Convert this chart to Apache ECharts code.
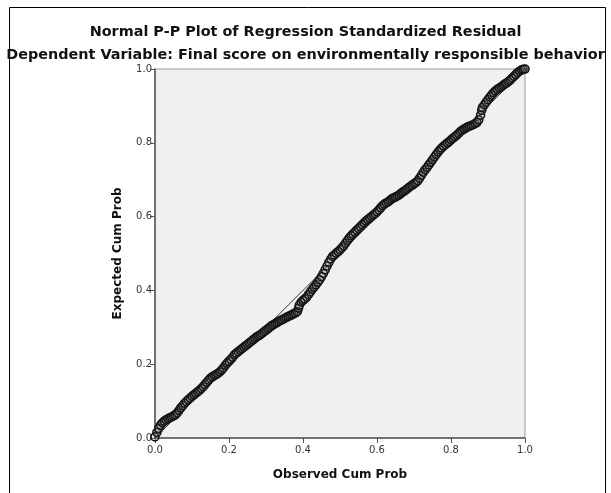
<!DOCTYPE html>
<html>
<head>
<meta charset="utf-8">
<script src="https://cdn.jsdelivr.net/npm/echarts@6/dist/echarts.min.js"></script>
<style>
html,body{margin:0;padding:0;background:#fff;}
#chart{width:611px;height:493px;}
</style>
</head>
<body>
<div id="chart"></div>
<script>
const titleText = "Normal P-P Plot of Regression Standardized Residual";
const subtitleText = "Dependent Variable: Final score on environmentally responsible behavior";
const xAxisName = "Observed Cum Prob";
const yAxisName = "Expected Cum Prob";
const tickValues = [0, 0.2, 0.4, 0.6, 0.8, 1.0];

const observedCumProb = [
0.000,0.005,0.010,0.015,0.020,0.025,0.030,0.035,0.040,0.045,
0.050,0.055,0.060,0.065,0.070,0.075,0.080,0.085,0.090,0.095,
0.100,0.105,0.110,0.115,0.120,0.125,0.130,0.135,0.140,0.145,
0.150,0.155,0.160,0.165,0.170,0.175,0.180,0.185,0.190,0.195,
0.200,0.205,0.210,0.215,0.220,0.225,0.230,0.235,0.240,0.245,
0.250,0.255,0.260,0.265,0.270,0.275,0.280,0.285,0.290,0.295,
0.300,0.305,0.310,0.315,0.320,0.325,0.330,0.335,0.340,0.345,
0.350,0.355,0.360,0.365,0.370,0.375,0.380,0.385,0.388,0.390,
0.395,0.400,0.405,0.410,0.415,0.420,0.425,0.430,0.435,0.440,
0.445,0.450,0.455,0.460,0.465,0.470,0.475,0.480,0.485,0.490,
0.495,0.500,0.505,0.510,0.515,0.520,0.525,0.530,0.535,0.540,
0.545,0.550,0.555,0.560,0.565,0.570,0.575,0.580,0.585,0.590,
0.595,0.600,0.605,0.610,0.615,0.620,0.625,0.630,0.635,0.640,
0.645,0.650,0.655,0.660,0.665,0.670,0.675,0.680,0.685,0.690,
0.695,0.700,0.705,0.710,0.715,0.720,0.725,0.730,0.735,0.740,
0.745,0.750,0.755,0.760,0.765,0.770,0.775,0.780,0.785,0.790,
0.795,0.800,0.805,0.810,0.815,0.820,0.825,0.830,0.835,0.840,
0.845,0.850,0.855,0.860,0.865,0.870,0.875,0.880,0.883,0.885,
0.890,0.895,0.900,0.905,0.910,0.915,0.920,0.925,0.930,0.935,
0.940,0.945,0.950,0.955,0.960,0.965,0.970,0.975,0.980,0.985,
0.990,0.995,1.000
];

const expectedCumProb = [
0.003,0.015,0.026,0.035,0.041,0.046,0.049,0.052,0.055,0.057,
0.060,0.063,0.068,0.075,0.082,0.088,0.094,0.099,0.104,0.108,
0.113,0.117,0.121,0.125,0.129,0.134,0.139,0.145,0.151,0.157,
0.162,0.166,0.169,0.172,0.175,0.179,0.184,0.190,0.197,0.203,
0.208,0.213,0.219,0.226,0.230,0.234,0.238,0.242,0.246,0.250,
0.254,0.258,0.262,0.266,0.270,0.274,0.277,0.280,0.284,0.288,
0.292,0.296,0.300,0.304,0.307,0.310,0.313,0.316,0.319,0.321,
0.324,0.327,0.329,0.332,0.334,0.337,0.339,0.343,0.352,0.360,
0.368,0.373,0.377,0.382,0.389,0.396,0.403,0.409,0.415,0.422,
0.429,0.437,0.446,0.456,0.466,0.476,0.485,0.492,0.496,0.501,
0.505,0.510,0.515,0.521,0.528,0.535,0.542,0.548,0.553,0.558,
0.563,0.568,0.573,0.578,0.583,0.588,0.592,0.596,0.600,0.604,
0.608,0.613,0.618,0.624,0.630,0.634,0.637,0.640,0.644,0.648,
0.651,0.653,0.656,0.659,0.663,0.667,0.670,0.674,0.678,0.682,
0.685,0.689,0.692,0.697,0.704,0.712,0.720,0.727,0.733,0.740,
0.747,0.754,0.761,0.768,0.775,0.781,0.786,0.791,0.795,0.799,
0.803,0.808,0.812,0.816,0.820,0.825,0.830,0.834,0.837,0.840,
0.843,0.845,0.847,0.849,0.852,0.855,0.862,0.875,0.888,0.896,
0.903,0.910,0.917,0.924,0.930,0.936,0.941,0.945,0.948,0.951,
0.955,0.959,0.962,0.966,0.970,0.975,0.980,0.985,0.990,0.994,
0.997,0.999,1.000
];

const referenceLine = [[0, 0], [1, 1]];

const points = observedCumProb.map((x, i) => [x, expectedCumProb[i]]);

const chart = echarts.init(document.getElementById('chart'), null, {renderer: 'canvas'});
const FONT = 'DejaVu Sans';
chart.setOption({
  backgroundColor: '#ffffff',
  animation: false,
  title: [
    {text: titleText, left: 'center', top: 20, textStyle: {fontFamily: FONT, fontSize: 14.4, fontWeight: 'bold', color: '#111'}},
    {text: subtitleText, left: 'center', top: 43, textStyle: {fontFamily: FONT, fontSize: 14.4, fontWeight: 'bold', color: '#111'}}
  ],
  graphic: [
    {type: 'rect', left: 7, top: 5, shape: {width: 596, height: 560}, style: {fill: 'none', stroke: '#000', lineWidth: 1}, silent: true, z: 0}
  ],
  grid: {left: 155, top: 69, width: 370, height: 369, show: true, backgroundColor: '#f0f0f0', borderColor: '#999', borderWidth: 1},
  xAxis: {
    type: 'value', min: 0, max: 1, interval: 0.2,
    name: xAxisName, nameLocation: 'middle', nameGap: 31,
    nameTextStyle: {fontFamily: FONT, fontSize: 12, fontWeight: 'bold', color: '#111'},
    axisLine: {show: true, lineStyle: {color: '#555', width: 1.5}},
    axisTick: {show: true, length: 5, lineStyle: {color: '#555'}},
    axisLabel: {fontFamily: FONT, fontSize: 10, color: '#333', margin: 7, formatter: v => v.toFixed(1)},
    splitLine: {show: false}
  },
  yAxis: {
    type: 'value', min: 0, max: 1, interval: 0.2,
    name: yAxisName, nameLocation: 'middle', nameGap: 31, nameRotate: 90,
    nameTextStyle: {fontFamily: FONT, fontSize: 12, fontWeight: 'bold', color: '#111'},
    axisLine: {show: true, lineStyle: {color: '#555', width: 1.5}},
    axisTick: {show: true, length: 5, lineStyle: {color: '#555'}},
    axisLabel: {fontFamily: FONT, fontSize: 10, color: '#333', margin: 3, formatter: v => v.toFixed(1)},
    splitLine: {show: false}
  },
  series: [
    {
      type: 'line', data: referenceLine, symbol: 'none', silent: true,
      lineStyle: {color: '#333', width: 1}, z: 2
    },
    {
      type: 'scatter', data: points, symbol: 'circle', symbolSize: 8,
      itemStyle: {color: 'rgba(120,120,120,0.2)', borderColor: '#151515', borderWidth: 1.6, opacity: 1}, z: 3
    }
  ]
});
</script>
</body>
</html>
